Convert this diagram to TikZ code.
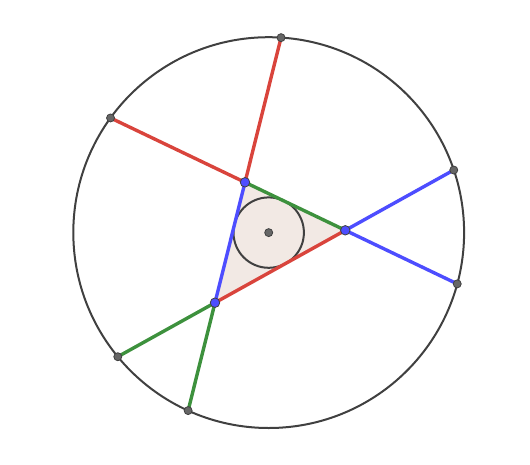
\documentclass[tikz,border=0pt]{standalone}
\usetikzlibrary{calc}
\definecolor{ggred}{RGB}{217,68,60}
\definecolor{ggblue}{RGB}{77,77,255}
\definecolor{gggreen}{RGB}{61,145,61}
\definecolor{ggdark}{RGB}{64,64,64}
\definecolor{ggfill}{RGB}{242,233,228}
\begin{document}
\begin{tikzpicture}
[x=1pt,y=-1pt,
 seg/.style={line width=3.4pt},
 circ/.style={draw=ggdark,line width=2pt},
 vert/.style={circle,fill=ggblue,draw=ggdark,line width=0.8pt,inner sep=0pt,minimum size=9.5pt},
 pt/.style={circle,fill=ggdark!80,draw=ggdark,line width=0.8pt,inner sep=0pt,minimum size=8pt}]
  \useasboundingbox (0,0) rectangle (530,464);

  \coordinate (A) at (245,182.3);
  \coordinate (B) at (345.3,230.3);
  \coordinate (C) at (215,302.7);
  \coordinate (I) at (268.7,232.6);

  \coordinate (Pa1) at (281.04,37.66);
  \coordinate (Pa2) at (110.54,117.95);
  \coordinate (Pb1) at (457.23,283.86);
  \coordinate (Pb2) at (453.76,170.03);
  \coordinate (Pc1) at (117.80,356.71);
  \coordinate (Pc2) at (188.12,410.59);

  \fill[ggfill] (A) -- (B) -- (C) -- cycle;
  \draw[circ] (I) circle (195.4);
  \draw[circ] (I) circle (35.2);

  \draw[seg,ggred] (Pa1) -- (A) -- (Pa2);
  \draw[seg,ggblue] (Pb1) -- (B) -- (Pb2);
  \draw[seg,gggreen] (Pc1) -- (C) -- (Pc2);

  \draw[seg,gggreen] (A) -- (B);
  \draw[seg,ggred] (B) -- (C);
  \draw[seg,ggblue] (C) -- (A);

  \foreach \p in {Pa1,Pa2,Pb1,Pb2,Pc1,Pc2,I}
    \node[pt] (n\p) at (\p) {};
  \foreach \v in {A,B,C}
    \node[vert] (n\v) at (\v) {};
\end{tikzpicture}
\end{document}
